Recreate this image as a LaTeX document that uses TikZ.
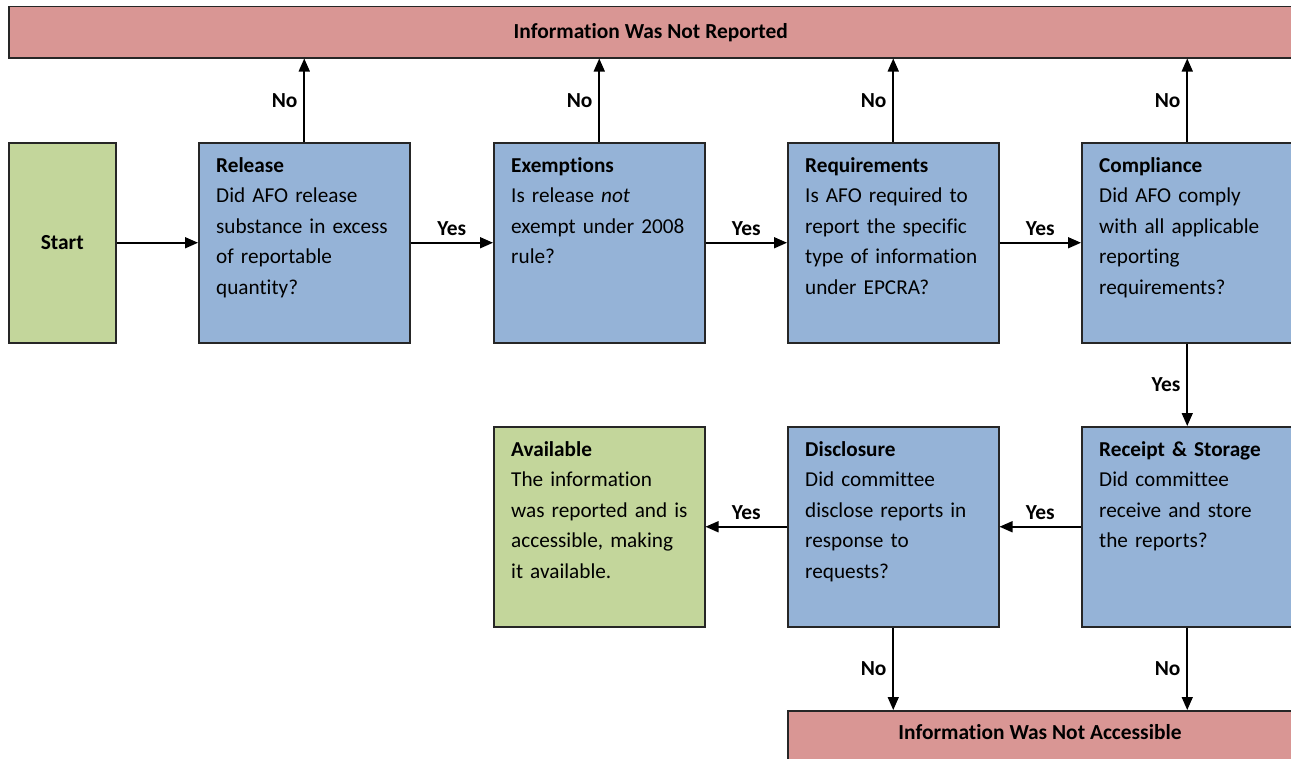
\documentclass[tikz,border=0pt]{standalone}
\usepackage{fontspec}
\setmainfont{Carlito}[Ligatures=NoCommon]
\usetikzlibrary{arrows.meta}
\definecolor{redf}{HTML}{D99694}
\definecolor{bluef}{HTML}{95B3D7}
\definecolor{greenf}{HTML}{C3D69B}
\definecolor{edge}{HTML}{262626}
\tikzset{
  box/.style={draw=edge, line width=1.5bp, inner sep=0pt, anchor=north west, minimum width=211bp, minimum height=200bp, fill=bluef},
  gbox/.style={box, fill=greenf},
  bar/.style={draw=edge, line width=1.5bp, inner sep=0pt, anchor=north west, fill=redf, font=\fontsize{21.5}{24}\selectfont\bfseries},
  body/.style={anchor=base west, inner sep=0pt, text width=200bp, align=left, font=\fontsize{21.3}{30.75}\selectfont},
  arr/.style={line width=1.6bp, -{Triangle[length=13bp,width=11bp]}},
  lab/.style={font=\fontsize{21.5}{24}\selectfont\bfseries, inner sep=2bp}
}
\begin{document}
\begin{tikzpicture}[x=1bp,y=-1bp]
\useasboundingbox (0,0) rectangle (1291,759);
\clip (0,0) rectangle (1291,759);

\node[bar, minimum width=1284bp, minimum height=51bp] (top) at (8,6) {Information Was Not Reported};
\node[bar, minimum width=505bp, minimum height=60bp] (bot) at (787,710) {};
\node[lab] (botlabel) at (1040,732) {Information Was Not Accessible};

\node[gbox, minimum width=107bp] (start) at (8,142) {};
\node[lab] (starttext) at (start.center) {Start};

\node[box] (release) at (198,142) {};
\node[box] (exempt) at (493,142) {};
\node[box] (req) at (787,142) {};
\node[box] (comp) at (1081,142) {};

\node[gbox] (avail) at (493,426) {};
\node[box] (disc) at (787,426) {};
\node[box] (receipt) at (1081,426) {};

\node[body] (t1) at (216,172) {\textbf{Release}\\Did AFO release\\substance in excess\\of reportable\\quantity?};
\node[body] (t2) at (511,172) {\textbf{Exemptions}\\Is release \textit{not}\\exempt under 2008\\rule?};
\node[body] (t3) at (805,172) {\textbf{Requirements}\\Is AFO required to\\report the specific\\type of information\\under EPCRA?};
\node[body] (t4) at (1099,172) {\textbf{Compliance}\\Did AFO comply\\with all applicable\\reporting\\requirements?};
\node[body] (t5) at (511,456) {\textbf{Available}\\The information\\was reported and is\\accessible, making\\it available.};
\node[body] (t6) at (805,456) {\textbf{Disclosure}\\Did committee\\disclose reports in\\response to\\requests?};
\node[body] (t7) at (1099,456) {\textbf{Receipt \& Storage}\\Did committee\\receive and store\\the reports?};

% horizontal Yes arrows
\draw[arr] (start.east) -- (release.west);
\draw[arr] (release.east) -- node[lab, above=4bp] (y1) {Yes} (exempt.west);
\draw[arr] (exempt.east) -- node[lab, above=4bp] (y2) {Yes} (req.west);
\draw[arr] (req.east) -- node[lab, above=4bp] (y3) {Yes} (comp.west);
\draw[arr] (comp.south) -- node[lab, left=4bp] (y4) {Yes} (receipt.north);
\draw[arr] (receipt.west) -- node[lab, above=4bp] (y5) {Yes} (disc.east);
\draw[arr] (disc.west) -- node[lab, above=4bp] (y6) {Yes} (avail.east);

% No arrows up
\draw[arr] (release.north) -- node[lab, left=4bp] (n1) {No} (release.north |- top.south);
\draw[arr] (exempt.north) -- node[lab, left=4bp] (n2) {No} (exempt.north |- top.south);
\draw[arr] (req.north) -- node[lab, left=4bp] (n3) {No} (req.north |- top.south);
\draw[arr] (comp.north) -- node[lab, left=4bp] (n4) {No} (comp.north |- top.south);

% No arrows down
\draw[arr] (disc.south) -- node[lab, left=4bp] (n5) {No} (disc.south |- bot.north);
\draw[arr] (receipt.south) -- node[lab, left=4bp] (n6) {No} (receipt.south |- bot.north);
\end{tikzpicture}
\end{document}
